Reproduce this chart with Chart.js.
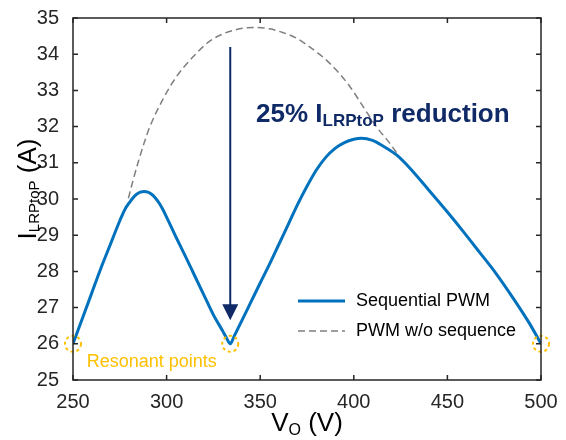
<!DOCTYPE html>
<html>
<head>
<meta charset="utf-8">
<script src="https://cdn.jsdelivr.net/npm/chart.js@4.4.1/dist/chart.umd.min.js"></script>
<style>
  body { margin: 0; background: #fff; }
  canvas { display: block; }
</style>
</head>
<body>
<canvas id="chartIlr" width="566" height="440"></canvas>
<script>
// Sequential PWM (V_O in V, I_LRPtoP in A)
var seqV = [250, 255, 260, 265, 270, 275, 278, 280, 282, 284, 286, 288, 290, 292, 294, 296, 298,
            300, 305, 310, 315, 320, 325, 330, 332, 334, 336,
            340, 345, 350, 355, 360, 365, 370, 375, 380, 385, 390, 395, 400, 404,
            410, 416, 423, 430, 440, 450, 458.5, 467, 476, 485, 494, 500];
var seqI = [26.0, 26.7, 27.4, 28.1, 28.75, 29.4, 29.74, 29.89, 30.03, 30.13, 30.19, 30.21, 30.19, 30.13, 30.03, 29.89, 29.71,
            29.5, 28.95, 28.42, 27.88, 27.34, 26.8, 26.35, 26.16, 26.0, 26.2,
            26.62, 27.15, 27.68, 28.2, 28.75, 29.3, 29.85, 30.35, 30.8, 31.15, 31.4, 31.56, 31.65, 31.68,
            31.62, 31.45, 31.21, 30.85, 30.25, 29.64, 29.1, 28.54, 27.94, 27.27, 26.55, 26.0];

// PWM without sequence
var noSeqV = [279.6, 282, 285, 288, 291, 298, 305, 314, 323, 331, 339, 347, 355, 362, 369.5,
              377, 384, 391, 398, 405, 412, 418, 424];
var noSeqI = [30.02, 30.5, 31.05, 31.55, 31.99, 32.75, 33.36, 33.92, 34.36, 34.58, 34.7, 34.74, 34.7, 34.6, 34.44,
              34.18, 33.9, 33.54, 33.1, 32.55, 32.0, 31.62, 31.2];

// resonant points
var resV = [250, 334, 500];
var resI = [26, 26, 26];

// reduction arrow
var arrowV = 334;
var arrowFromI = 34.2;
var arrowToI = 26.65;

var xTicks = [250, 300, 350, 400, 450, 500];
var yTicks = [25, 26, 27, 28, 29, 30, 31, 32, 33, 34, 35];

var FONT = '"Liberation Sans", Arial, Helvetica, sans-serif';
var AXIS = '#262626';
var NAVY = '#0f2a66';
var GOLD = '#ffc000';

function pts(xs, ys) {
    return xs.map(function(v, i) { return {x: v, y: ys[i]}; });
}

// draws text made of pieces (main text + subscripts), left aligned on baseline
function richText(ctx, parts, x, y, bold) {
    var w = 0;
    parts.forEach(function(p) {
        ctx.font = (bold ? 'bold ' : '') + p.size + 'px ' + FONT;
        ctx.fillText(p.t, x + w, y + (p.dy || 0));
        w += ctx.measureText(p.t).width;
    });
    return w;
}
function richWidth(ctx, parts, bold) {
    var w = 0;
    parts.forEach(function(p) {
        ctx.font = (bold ? 'bold ' : '') + p.size + 'px ' + FONT;
        w += ctx.measureText(p.t).width;
    });
    return w;
}

var decor = {
    id: 'decor',
    afterDatasetsDraw: function(chart) {
        var ctx = chart.ctx, x = chart.scales.x, y = chart.scales.y;
        ctx.save();

        // arrow
        var ax = x.getPixelForValue(arrowV);
        var ay0 = y.getPixelForValue(arrowFromI);
        var ay1 = y.getPixelForValue(arrowToI);
        ctx.strokeStyle = NAVY;
        ctx.fillStyle = NAVY;
        ctx.lineWidth = 2;
        ctx.beginPath();
        ctx.moveTo(ax, ay0);
        ctx.lineTo(ax, ay1 - 14);
        ctx.stroke();
        ctx.beginPath();
        ctx.moveTo(ax - 8, ay1 - 16);
        ctx.lineTo(ax + 8, ay1 - 16);
        ctx.lineTo(ax, ay1);
        ctx.closePath();
        ctx.fill();

        // annotation
        ctx.textBaseline = 'alphabetic';
        ctx.textAlign = 'left';
        richText(ctx, [
            {t: '25% I', size: 26},
            {t: 'LRPtoP', size: 17, dy: 4},
            {t: ' reduction', size: 26}
        ], x.getPixelForValue(347.8), y.getPixelForValue(32.14), true);

        // resonant points
        ctx.strokeStyle = GOLD;
        ctx.lineWidth = 2;
        ctx.setLineDash([3, 3]);
        resV.forEach(function(v, i) {
            ctx.beginPath();
            ctx.arc(x.getPixelForValue(v), y.getPixelForValue(resI[i]), 8, 0, Math.PI * 2);
            ctx.stroke();
        });
        ctx.setLineDash([]);
        ctx.fillStyle = GOLD;
        ctx.font = '18px ' + FONT;
        ctx.fillText('Resonant points', x.getPixelForValue(257.3), y.getPixelForValue(25.36));
        ctx.restore();
    },
    afterDraw: function(chart) {
        var ctx = chart.ctx, a = chart.chartArea, x = chart.scales.x, y = chart.scales.y;
        ctx.save();

        // box + inward ticks
        ctx.strokeStyle = AXIS;
        ctx.lineWidth = 1.5;
        ctx.strokeRect(a.left, a.top, a.right - a.left, a.bottom - a.top);
        ctx.beginPath();
        xTicks.forEach(function(v) {
            var px = x.getPixelForValue(v);
            ctx.moveTo(px, a.bottom); ctx.lineTo(px, a.bottom - 5);
            ctx.moveTo(px, a.top); ctx.lineTo(px, a.top + 5);
        });
        yTicks.forEach(function(v) {
            var py = y.getPixelForValue(v);
            ctx.moveTo(a.left, py); ctx.lineTo(a.left + 5, py);
            ctx.moveTo(a.right, py); ctx.lineTo(a.right - 5, py);
        });
        ctx.stroke();

        // axis titles
        ctx.fillStyle = '#000';
        ctx.textAlign = 'left';
        ctx.textBaseline = 'alphabetic';
        var xt = [{t: 'V', size: 26}, {t: 'O', size: 16, dy: 4}, {t: ' (V)', size: 26}];
        richText(ctx, xt, (a.left + a.right) / 2 - richWidth(ctx, xt) / 2, 431);

        var yt = [{t: 'I', size: 26}, {t: 'LRPtoP', size: 15, dy: 3}, {t: ' (A)', size: 26}];
        ctx.translate(36, (a.top + a.bottom) / 2 - 10);
        ctx.rotate(-Math.PI / 2);
        richText(ctx, yt, -richWidth(ctx, yt) / 2, 0);
        ctx.setTransform(1, 0, 0, 1, 0, 0);

        // legend
        var rows = [301, 331];
        chart.data.datasets.forEach(function(ds, i) {
            var ly = rows[i];
            ctx.strokeStyle = ds.borderColor;
            ctx.lineWidth = ds.borderWidth;
            ctx.setLineDash(ds.borderDash || []);
            ctx.beginPath();
            ctx.moveTo(a.right - 243, ly);
            ctx.lineTo(a.right - 196, ly);
            ctx.stroke();
            ctx.setLineDash([]);
            ctx.fillStyle = '#000';
            ctx.font = '18px ' + FONT;
            ctx.textBaseline = 'middle';
            ctx.fillText(ds.label, a.right - 185, ly);
        });
        ctx.restore();
    }
};

var ctxIlr = document.getElementById('chartIlr');
var chartIlr = new Chart(ctxIlr, {
    type: 'line',
    data: {
        datasets: [
            {
                label: 'Sequential PWM',
                data: pts(seqV, seqI),
                borderColor: '#0072bd',
                borderWidth: 3,
                pointRadius: 0,
                cubicInterpolationMode: 'monotone',
                borderJoinStyle: 'round'
            },
            {
                label: 'PWM w/o sequence',
                data: pts(noSeqV, noSeqI),
                borderColor: '#7f7f7f',
                borderWidth: 1.5,
                borderDash: [7, 4],
                pointRadius: 0,
                cubicInterpolationMode: 'monotone'
            }
        ]
    },
    options: {
        responsive: false,
        animation: false,
        layout: { padding: { left: 0, right: 25, top: 15, bottom: 0 } },
        plugins: {
            legend: { display: false },
            tooltip: { enabled: false }
        },
        scales: {
            x: {
                type: 'linear',
                min: 250,
                max: 500,
                grid: { display: false },
                border: { display: false },
                afterBuildTicks: function(s) { s.ticks = xTicks.map(function(v) { return {value: v}; }); },
                afterFit: function(s) { s.height = 60; },
                ticks: { font: { size: 20, family: FONT }, color: AXIS, padding: 2, maxRotation: 0 }
            },
            y: {
                type: 'linear',
                min: 25,
                max: 35,
                grid: { display: false },
                border: { display: false },
                afterBuildTicks: function(s) { s.ticks = yTicks.map(function(v) { return {value: v}; }); },
                afterFit: function(s) { s.width = 73; },
                ticks: { font: { size: 20, family: FONT }, color: AXIS, padding: 6 }
            }
        }
    },
    plugins: [decor]
});
</script>
</body>
</html>
